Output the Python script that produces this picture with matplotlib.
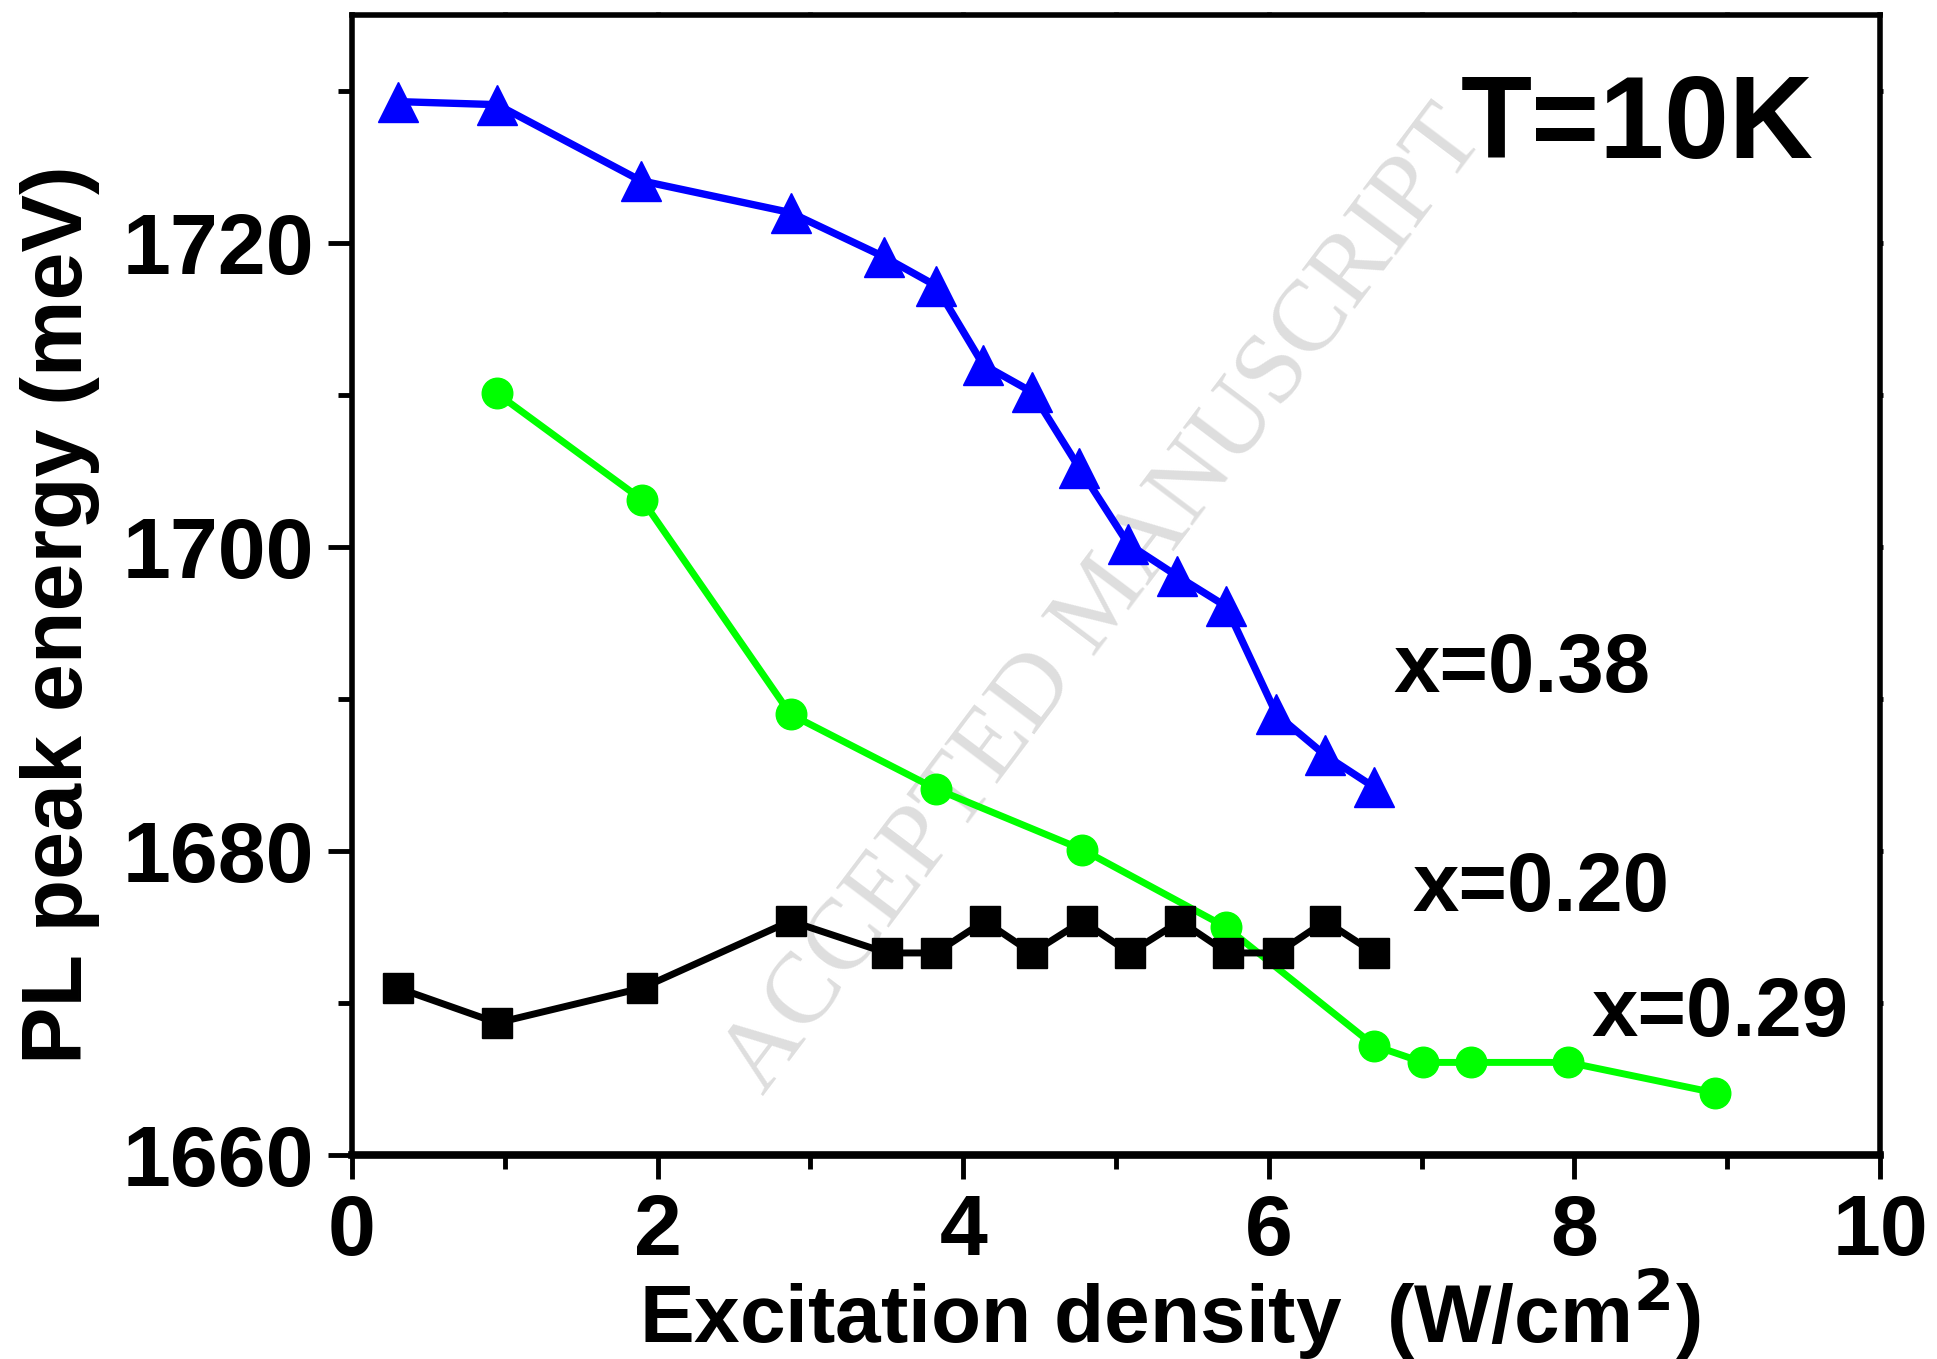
import matplotlib
matplotlib.use("Agg")
import matplotlib.pyplot as plt

# ---- data ----
x_038 = [0.30, 0.95, 1.89, 2.87, 3.48, 3.82, 4.13, 4.45, 4.76, 5.08, 5.40, 5.72, 6.05, 6.37, 6.69]
y_038 = [1729.3, 1729.1, 1724.1, 1722.0, 1719.1, 1717.2, 1712.0, 1710.2, 1705.2, 1700.2, 1698.1, 1696.1, 1689.0, 1686.3, 1684.2]

x_029 = [0.95, 1.90, 2.87, 3.82, 4.78, 5.72, 6.69, 7.01, 7.32, 7.96, 8.92]
y_029 = [1710.1, 1703.1, 1689.0, 1684.1, 1680.1, 1675.0, 1667.2, 1666.1, 1666.1, 1666.1, 1664.1]

x_020 = [0.30, 0.95, 1.90, 2.87, 3.50, 3.82, 4.14, 4.45, 4.78, 5.09, 5.42, 5.73, 6.06, 6.37, 6.69]
y_020 = [1671.0, 1668.7, 1671.0, 1675.4, 1673.3, 1673.3, 1675.4, 1673.3, 1675.4, 1673.3, 1675.4, 1673.3, 1673.3, 1675.4, 1673.3]

x_ticks = [0, 2, 4, 6, 8, 10]
y_ticks = [1660, 1680, 1700, 1720]

plt.rcParams['font.family'] = ['Liberation Sans', 'DejaVu Sans']
plt.rcParams['font.weight'] = 'bold'

fig = plt.figure(figsize=(19.37, 13.59), dpi=100)
ax = fig.add_axes([0.1817, 0.150, 0.7889, 0.839])

ax.plot(x_038, y_038, color='#0000ff', lw=5.3, marker='^', ms=29, zorder=3)
ax.plot(x_029, y_029, color='#00ff00', lw=5.0, marker='o', ms=22, zorder=3)
ax.plot(x_020, y_020, color='black', lw=5.0, marker='s', ms=21, zorder=3)

ax.set_xlim(0, 10)
ax.set_ylim(1660, 1735)
ax.set_xticks(x_ticks)
ax.set_yticks(y_ticks)
ax.set_xticks([1, 3, 5, 7, 9], minor=True)
ax.set_yticks([1670, 1690, 1710, 1730], minor=True)

for s in ax.spines.values():
    s.set_linewidth(4)
ax.spines['bottom'].set_linewidth(5.5)

ax.tick_params(axis='both', which='major', direction='out', length=17, width=3.5,
               labelsize=62, pad=10, top=True, right=True)
ax.tick_params(axis='both', which='minor', direction='out', length=10, width=3.5,
               top=True, right=True)
ax.tick_params(axis='x', which='both', top=True, labeltop=False)
ax.tick_params(axis='y', which='both', right=True, labelright=False)
for t in ax.xaxis.get_major_ticks() + ax.xaxis.get_minor_ticks():
    t.tick2line.set_markersize(2)
for t in ax.yaxis.get_major_ticks() + ax.yaxis.get_minor_ticks():
    t.tick2line.set_markersize(2)
for lab in ax.get_xticklabels() + ax.get_yticklabels():
    lab.set_fontweight('bold')

fig.text(0.604, 0.033, 'Excitation density  (W/cm$^\\mathbf{2}$)', fontsize=59,
         fontweight='bold', ha='center', va='center')
fig.text(0.031, 0.548, 'PL peak energy (meV)', fontsize=62, fontweight='bold',
         rotation=90, ha='center', va='center')

ax.text(8.41, 1727.6, 'T=10K', fontsize=84, fontweight='bold', ha='center', va='center')
ax.text(7.66, 1691.9, 'x=0.38', fontsize=60, fontweight='bold', ha='center', va='center')
ax.text(7.78, 1677.5, 'x=0.20', fontsize=60, fontweight='bold', ha='center', va='center')
ax.text(8.95, 1669.3, 'x=0.29', fontsize=60, fontweight='bold', ha='center', va='center')

ax.text(0.493, 0.485, 'ACCEPTED MANUSCRIPT', transform=ax.transAxes, rotation=53,
        fontsize=73, color='#dedede', family=['Liberation Serif', 'DejaVu Serif'],
        fontweight='normal', ha='center', va='center', zorder=1)

fig.savefig('out.png', dpi=100)
